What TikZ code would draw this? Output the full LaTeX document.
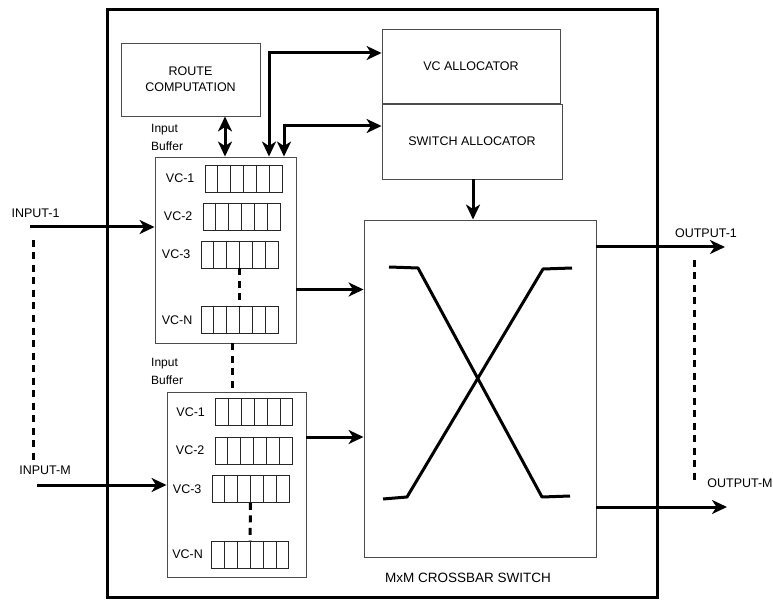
\documentclass[tikz,border=0pt]{standalone}
\usepackage{fontspec}
\setmainfont{Liberation Sans}
\usetikzlibrary{arrows.meta,calc}
\begin{document}
\begin{tikzpicture}[x=1pt,y=-1pt,
  frame/.style={draw=black, line width=3pt, inner sep=0pt},
  box/.style={draw=black!70, line width=0.9pt, inner sep=0pt, align=center, font=\fontsize{12.5}{16}\selectfont},
  queue/.style={draw=black!85, line width=0.8pt, inner sep=0pt, minimum width=77pt, minimum height=27pt},
  cell/.style={draw=black!85, line width=0.8pt},
  lbl/.style={inner sep=0pt, font=\fontsize{12.5}{15}\selectfont},
  bufl/.style={inner sep=0pt, align=left, font=\fontsize{12}{18}\selectfont},
  tip/.tip={Stealth[length=15pt,width=14pt,inset=4.5pt]},
  conn/.style={line width=3pt, -tip},
  bidir/.style={line width=3pt, tip-tip},
  dots/.style={line width=3pt, dash pattern=on 7pt off 5.5pt},
  xline/.style={line width=3pt, line join=round}
]
\useasboundingbox (0,0) rectangle (773,601);

% outer frame
\node[frame, minimum width=550pt, minimum height=587pt] (frm) at (382,303.5) {};

% blocks
\node[box, minimum width=139pt, minimum height=73pt] (rc) at (190.5,79.5) {ROUTE\\COMPUTATION};
\node[box, minimum width=178pt, minimum height=74pt] (vca) at (471,66) {VC ALLOCATOR};
\node[box, minimum width=180pt, minimum height=75pt] (swa) at (472,141.5) {SWITCH ALLOCATOR};
\node[box, minimum width=232pt, minimum height=337pt] (xb) at (480,388.5) {};
\node[lbl, font=\fontsize{13.5}{16}\selectfont] (xbl) at (468,578) {MxM CROSSBAR SWITCH};

% input buffers
\node[box, minimum width=141pt, minimum height=186pt] (b1) at (225.5,250) {};
\node[box, minimum width=139pt, minimum height=185pt] (b2) at (236.5,484.5) {};
\node[bufl, anchor=west] (b1l) at (151,137) {Input\\Buffer};
\node[bufl, anchor=west] (b2l) at (151,371) {Input\\Buffer};

% queues
\node[queue] (q11) at (243.5,178.5) {};
\node[queue] (q12) at (241.5,216.5) {};
\node[queue] (q13) at (239.5,254.5) {};
\node[queue] (q1n) at (239.5,320) {};
\node[queue] (q21) at (254,412) {};
\node[queue] (q22) at (253.5,450.5) {};
\node[queue] (q23) at (250.5,489) {};
\node[queue] (q2n) at (250,554.5) {};
\foreach \q in {q11,q12,q13,q1n,q21,q22,q23,q2n}
  \foreach \i in {1,...,5}
    \draw[cell] ($(\q.north west)!\i/6!(\q.north east)$) -- ($(\q.south west)!\i/6!(\q.south east)$);

\node[lbl, anchor=east] (l11) at ([xshift=-10pt]q11.west) {VC-1};
\node[lbl, anchor=east] (l12) at ([xshift=-10pt]q12.west) {VC-2};
\node[lbl, anchor=east] (l13) at ([xshift=-10pt]q13.west) {VC-3};
\node[lbl, anchor=east] (l1n) at ([xshift=-8pt]q1n.west) {VC-N};
\node[lbl, anchor=east] (l21) at ([xshift=-10pt]q21.west) {VC-1};
\node[lbl, anchor=east] (l22) at ([xshift=-10pt]q22.west) {VC-2};
\node[lbl, anchor=east] (l23) at ([xshift=-10pt]q23.west) {VC-3};
\node[lbl, anchor=east] (l2n) at ([xshift=-8pt]q2n.west) {VC-N};

\draw[dots] (q13.south) -- (q1n.north);
\draw[dots] (q23.south) -- (q2n.north);
\draw[dots] ([xshift=6.5pt]b1.south) -- ([xshift=-4.5pt]b2.north);

% crossbar X
\draw[xline] (389,267) -- (418,268) -- (542,497) -- (570,496);
\draw[xline] (383,499) -- (407,497) -- (543,269) -- (572,268);

% inputs / outputs
\node[lbl] (in1l) at (35.5,213) {INPUT-1};
\node[lbl] (inml) at (45,470) {INPUT-M};
\node[lbl] (o1l) at (706,233) {OUTPUT-1};
\node[lbl] (oml) at (740,483) {OUTPUT-M};

\coordinate (in1) at (30,227);
\coordinate (inm) at (37,485);
\coordinate (ind1) at (33,240);
\coordinate (ind2) at (33,461);
\coordinate (o1) at (725,247);
\coordinate (om) at (727,507);
\coordinate (od1) at (694,260);
\coordinate (od2) at (694,481);

\draw[conn] (in1) -- (in1 -| b1.west);
\draw[conn] (inm) -- (inm -| b2.west);
\draw[dots] (ind1) -- (ind2);
\draw[conn] (o1 -| xb.east) -- (o1);
\draw[conn] (om -| xb.east) -- (om);
\draw[dots] (od1) -- (od2);

% buffers to crossbar
\coordinate (c1) at (0,289.5);
\coordinate (c2) at (0,437);
\draw[conn] (c1 -| b1.east) -- (c1 -| xb.west);
\draw[conn] (c2 -| b2.east) -- (c2 -| xb.west);

% switch allocator to crossbar
\coordinate (sx) at (473,0);
\draw[conn] (sx |- swa.south) -- (sx |- xb.north);

% route computation <-> buffer
\coordinate (rx) at (225,0);
\draw[bidir] (rx |- rc.south) -- (rx |- b1.north);

% buffer <-> allocators
\coordinate (j1) at (269,53);
\coordinate (j2) at (284,126);
\draw[bidir] (j1 |- b1.north) -- (j1) -- (j1 -| vca.west);
\draw[bidir] (j2 |- b1.north) -- (j2) -- (j2 -| swa.west);
\end{tikzpicture}
\end{document}
